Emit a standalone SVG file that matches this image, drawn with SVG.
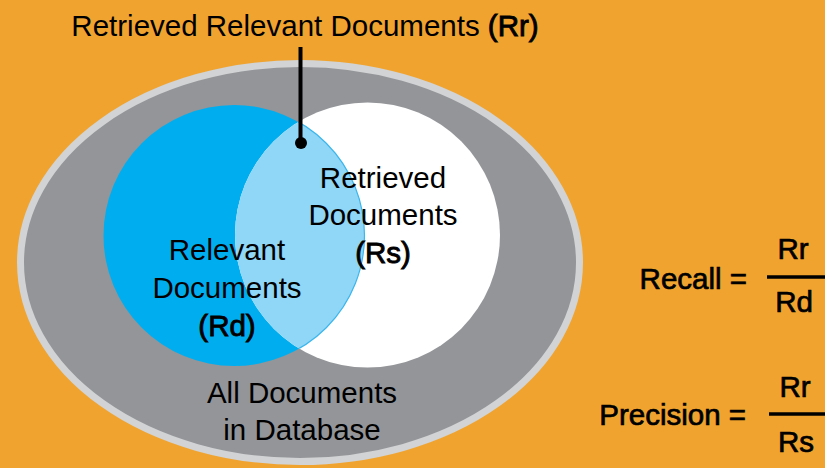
<svg xmlns="http://www.w3.org/2000/svg" width="825" height="468" viewBox="0 0 825 468">
<style>
  text { font-family: "Liberation Sans", Arial, sans-serif; fill: #000; }
  .lbl { font-size: 29.5px; text-anchor: middle; }
  .b { stroke: #000; stroke-width: 0.9; }
  .f { font-size: 29.5px; stroke: #000; stroke-width: 0.7; }
  .frac { stroke: #000; stroke-width: 3.3; }
</style>
<defs>
  <clipPath id="clipWhite"><circle cx="367.5" cy="235" r="132.5"/></clipPath>
</defs>
<rect width="825" height="468" fill="#F0A32F"/>
<g id="all-documents">
  <ellipse cx="300" cy="262.5" rx="279.5" ry="199" fill="#939598" stroke="#D1D3D4" stroke-width="7"/>
  <text class="lbl" x="302" y="403">All Documents</text>
  <text class="lbl" x="302" y="440">in Database</text>
</g>
<g id="relevant">
  <circle cx="234" cy="235.5" r="130.5" fill="#00AEEF"/>
</g>
<g id="retrieved">
  <circle cx="367.5" cy="235" r="132.5" fill="#FFFFFF"/>
</g>
<g id="intersection">
  <circle cx="234" cy="235.5" r="130.5" fill="#8FD6F7" stroke="#3DB6EC" stroke-width="1.2" clip-path="url(#clipWhite)"/>
</g>
<g id="labels">
  <text class="lbl" x="227" y="260">Relevant</text>
  <text class="lbl" x="227" y="298">Documents</text>
  <text class="lbl b" x="227" y="336">(Rd)</text>
  <text class="lbl" x="383" y="188">Retrieved</text>
  <text class="lbl" x="383" y="225">Documents</text>
  <text class="lbl b" x="383" y="263">(Rs)</text>
</g>
<g id="connectors">
  <line x1="300.5" y1="47" x2="300.5" y2="142" stroke="#000" stroke-width="4"/>
  <circle cx="301" cy="143" r="6" fill="#000"/>
</g>
<g id="title">
  <text x="305" y="36" style="font-size:29.5px;text-anchor:middle">Retrieved Relevant Documents <tspan class="b">(Rr)</tspan></text>
</g>
<g id="recall">
  <text class="f" x="747" y="289" text-anchor="end">Recall =</text>
  <text class="f" x="793" y="259" text-anchor="middle">Rr</text>
  <line class="frac" x1="767" y1="277" x2="825" y2="277"/>
  <text class="f" x="794" y="312" text-anchor="middle">Rd</text>
</g>
<g id="precision">
  <text class="f" x="746" y="425" text-anchor="end">Precision =</text>
  <text class="f" x="795" y="397" text-anchor="middle">Rr</text>
  <line class="frac" x1="769" y1="414" x2="825" y2="414"/>
  <text class="f" x="796" y="452" text-anchor="middle">Rs</text>
</g>
</svg>
